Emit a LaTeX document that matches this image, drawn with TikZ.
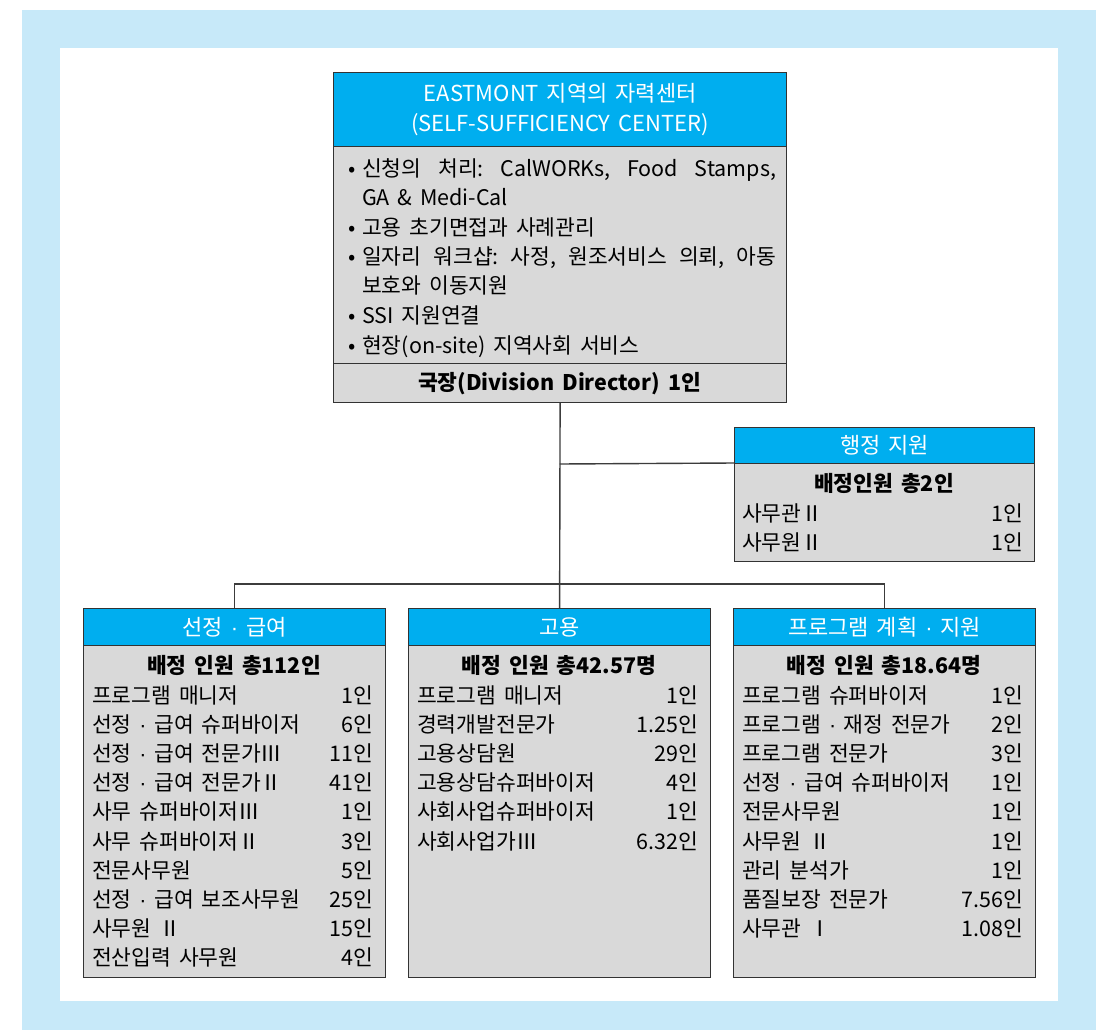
\documentclass[tikz,border=0pt]{standalone}
\usepackage{fontspec}
\setmainfont[WordSpace=1.6]{Noto Sans CJK KR}
\newfontfamily\dotfont{Liberation Sans}
\newcommand{\mdt}{{\dotfont ·}}
\frenchspacing
\definecolor{bgblue}{HTML}{C7E9F9}
\definecolor{hdblue}{HTML}{00AEEF}
\definecolor{bodygray}{HTML}{D9D9D9}
\definecolor{edge}{HTML}{333333}
\definecolor{wire}{HTML}{3C3C3C}
\tikzset{
  hdr/.style={draw=edge, line width=1.2pt, fill=hdblue, text=white, inner sep=0pt, anchor=north west, font=\fontsize{22}{30}\selectfont, align=center},
  bodybox/.style={draw=edge, line width=1.2pt, fill=bodygray, inner sep=0pt, anchor=north west},
  txt/.style={inner sep=0pt, font=\fontsize{21.5}{29}\selectfont, text=black},
  rowl/.style={txt, anchor=base west},
  rowr/.style={txt, anchor=base east},
  ttl/.style={txt, anchor=base, font=\fontsize{21.5}{29}\selectfont\bfseries},
  conn/.style={draw=wire, line width=1.4pt}
}
\begin{document}
\begin{tikzpicture}[x=1pt, y=-1pt]
\useasboundingbox (0,0) rectangle (1110,1030);
\fill[bgblue] (22,10) rectangle (1096,1030);
\fill[white] (60,48) rectangle (1058,1001);

% ---------- top box ----------
\node[hdr, minimum width=453pt, minimum height=74pt] (hq) at (333,72) {EASTMONT 지역의 자력센터\\(SELF-SUFFICIENCY CENTER)};
\node[bodybox, minimum width=453pt, minimum height=217pt] (hqbody) at (333,146) {};
\node[bodybox, minimum width=453pt, minimum height=39pt] (dir) at (333,363) {};
\node[ttl] (dirtxt) at (559.5,390) {국장(Division Director) 1인};

\node[txt, anchor=base] (b1) at (352,176) {•};
\node[txt, anchor=base] (b2) at (352,235) {•};
\node[txt, anchor=base] (b3) at (352,264) {•};
\node[txt, anchor=base] (b4) at (352,323) {•};
\node[txt, anchor=base] (b5) at (352,353) {•};
\node[rowl] (t1) at (362,176) {\makebox[414pt][s]{신청의 처리: CalWORKs, Food Stamps,}};
\node[rowl] (t1b) at (362,205) {GA \& Medi-Cal};
\node[rowl] (t2) at (362,235) {고용 초기면접과 사례관리};
\node[rowl] (t3) at (362,264) {\makebox[414pt][s]{일자리 워크샵: 사정, 원조서비스 의뢰, 아동}};
\node[rowl] (t3b) at (362,293) {보호와 이동지원};
\node[rowl] (t4) at (362,323) {SSI 지원연결};
\node[rowl] (t5) at (362,353) {현장(on-site) 지역사회 서비스};

% ---------- admin box ----------
\node[hdr, minimum width=300pt, minimum height=36pt] (adm) at (734,427) {행정 지원};
\node[bodybox, minimum width=300pt, minimum height=98pt] (admbody) at (734,463) {};
\node[ttl] (admttl) at (884,491) {배정인원 총2인};
\node[rowl] (adml1) at (742,521) {사무관Ⅱ};
\node[rowr] (admr1) at (1023,521) {1인};
\node[rowl] (adml2) at (742,550) {사무원Ⅱ};
\node[rowr] (admr2) at (1023,550) {1인};

% ---------- bottom boxes ----------
\node[hdr, minimum width=302pt, minimum height=37pt] (sel) at (83,608) {선정 \mdt{} 급여};
\node[bodybox, minimum width=302pt, minimum height=332pt] (selbody) at (83,645) {};
\node[hdr, minimum width=302pt, minimum height=37pt] (emp) at (408,608) {고용};
\node[bodybox, minimum width=302pt, minimum height=332pt] (empbody) at (408,645) {};
\node[hdr, minimum width=302pt, minimum height=37pt] (prog) at (733,608) {프로그램 계획 \mdt{} 지원};
\node[bodybox, minimum width=302pt, minimum height=332pt] (progbody) at (733,645) {};

\node[ttl] (selttl) at (234,673) {배정 인원 총112인};
\node[ttl] (empttl) at (559,673) {배정 인원 총42.57명};
\node[ttl] (progttl) at (884,673) {배정 인원 총18.64명};

\foreach \t/\n [count=\i] in {프로그램 매니저/1인, 선정 \mdt{} 급여 슈퍼바이저/6인, 선정 \mdt{} 급여 전문가Ⅲ/11인, 선정 \mdt{} 급여 전문가Ⅱ/41인, 사무 슈퍼바이저Ⅲ/1인, 사무 슈퍼바이저Ⅱ/3인, 전문사무원/5인, 선정 \mdt{} 급여 보조사무원/25인, 사무원 Ⅱ/15인, 전산입력 사무원/4인}{
  \node[rowl] (selL\i) at (92,{703+29.2*(\i-1)}) {\t};
  \node[rowr] (selR\i) at (373,{703+29.2*(\i-1)}) {\n};
}
\foreach \t/\n [count=\i] in {프로그램 매니저/1인, 경력개발전문가/1.25인, 고용상담원/29인, 고용상담슈퍼바이저/4인, 사회사업슈퍼바이저/1인, 사회사업가Ⅲ/6.32인}{
  \node[rowl] (empL\i) at (417,{703+29.2*(\i-1)}) {\t};
  \node[rowr] (empR\i) at (698,{703+29.2*(\i-1)}) {\n};
}
\foreach \t/\n [count=\i] in {프로그램 슈퍼바이저/1인, 프로그램 \mdt{} 재정 전문가/2인, 프로그램 전문가/3인, 선정 \mdt{} 급여 슈퍼바이저/1인, 전문사무원/1인, 사무원 Ⅱ/1인, 관리 분석가/1인, 품질보장 전문가/7.56인, 사무관 Ⅰ/1.08인}{
  \node[rowl] (progL\i) at (742,{703+29.2*(\i-1)}) {\t};
  \node[rowr] (progR\i) at (1023,{703+29.2*(\i-1)}) {\n};
}

% ---------- connectors ----------
\coordinate (j1) at (559.5,464);
\coordinate (bar) at (559.5,584);
\draw[conn] (dir.south) -- (emp.north);
\draw[conn] (j1) -- (admbody.north west);
\draw[conn] (sel.north) |- (bar) -| (prog.north);
\end{tikzpicture}
\end{document}
